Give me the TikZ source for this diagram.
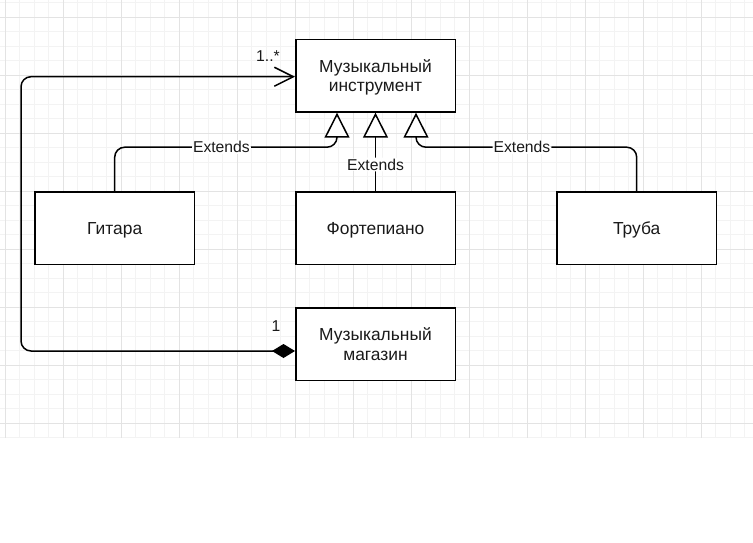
\documentclass[tikz,border=0pt]{standalone}
\usepackage{fontspec}
\setmainfont{Liberation Sans}
\usetikzlibrary{arrows.meta,calc}
\definecolor{gridminor}{HTML}{F3F3F3}
\definecolor{gridmajor}{HTML}{E3E3E3}
\definecolor{ink}{HTML}{1A1A1A}
\begin{document}
\begin{tikzpicture}[x=1pt,y=-1pt,
  txt/.style={font=\fontsize{17.4pt}{19.6pt}\selectfont, text=ink},
  smalltxt/.style={font=\fontsize{15.7pt}{18pt}\selectfont, text=ink},
  cls/.style={txt, draw=black, line width=1.5pt, fill=white, minimum width=159.5pt, minimum height=72.5pt, align=center, inner sep=0pt, text depth=0pt},
  gen/.style={draw=black, line width=1.5pt, rounded corners=10pt, -{Triangle[open, length=25pt, width=25pt, fill=white]}},
  comp/.style={draw=black, line width=1.5pt, rounded corners=10pt, {Diamond[length=23pt, width=14pt]}-{Straight Barb[length=19pt, width=19pt]}},
  lab/.style={smalltxt, fill=white, inner sep=1pt},
  mult/.style={smalltxt, inner sep=0pt}
]
\useasboundingbox (0,0) rectangle (753,543);
\fill[white] (0,0) rectangle (753,543);
% grid
\foreach \k in {0,...,51} {
  \draw[gridminor, line width=0.8pt] ({5.3+14.5*\k},0) -- ({5.3+14.5*\k},438);
}
\foreach \k in {0,...,30} {
  \draw[gridminor, line width=0.8pt] (0,{2.8+14.5*\k}) -- (753,{2.8+14.5*\k});
}
\foreach \k in {0,...,12} {
  \draw[gridmajor, line width=0.8pt] ({5.3+58*\k},0) -- ({5.3+58*\k},438);
}
\foreach \k in {0,...,7} {
  \draw[gridmajor, line width=0.8pt] (0,{17.3+58*\k}) -- (753,{17.3+58*\k});
}
% classes
\node[cls] (inst) at (375.5,75.7) {Музыкальный\\инструмент};
\node[cls] (guitar) at (114.7,228.2) {Гитара};
\node[cls] (piano) at (375.5,228.2) {Фортепиано};
\node[cls] (trumpet) at (636.7,228.2) {Труба};
\node[cls] (shop) at (375.5,344) {Музыкальный\\магазин};
% generalizations
\draw[gen] (guitar.north) -- ++(0,-44) -| ([xshift=-38.5pt]inst.south) node[lab, pos=0.24] (l1) {Extends};
\draw[gen] (piano.north) -- (inst.south) node[lab, pos=0.34] (l2) {Extends};
\draw[gen] (trumpet.north) -- ++(0,-44) -| ([xshift=40.5pt]inst.south) node[lab, pos=0.26] (l3) {Extends};
% composition
\draw[comp] ([yshift=-7pt]shop.west) -- (21,351) |- ([yshift=-1pt]inst.west);
\node[mult] (m1) at (268,55.7) {1..*};
\node[mult] (m2) at (276,325.7) {1};
\end{tikzpicture}
\end{document}
